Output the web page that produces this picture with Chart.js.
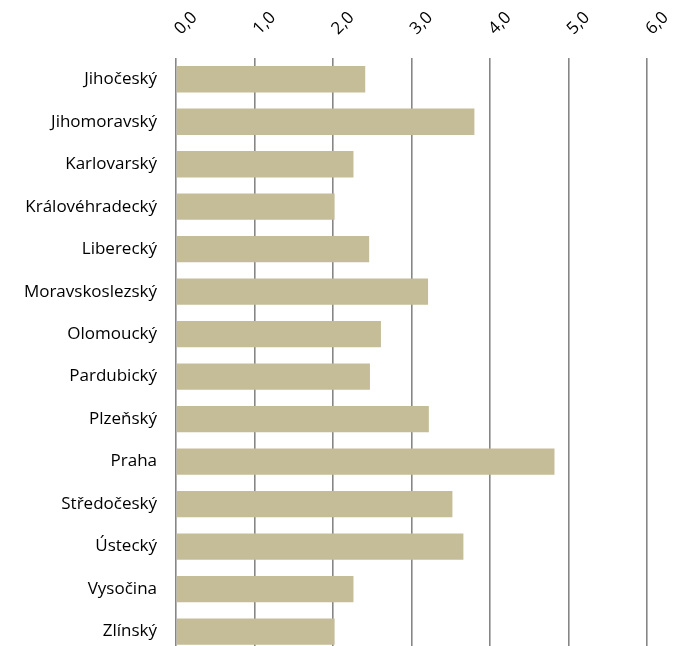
<!DOCTYPE html>
<html>
<head>
<meta charset="utf-8">
<script src="https://cdn.jsdelivr.net/npm/chart.js@4"></script>
<style>
    html, body { margin: 0; padding: 0; background: #fff; overflow: hidden; }
    #wrap { position: relative; width: 683px; height: 682px; }
</style>
</head>
<body>
<div id="wrap"><canvas id="chart"></canvas></div>
<script>
const regions = [
    'Jihočeský', 'Jihomoravský', 'Karlovarský', 'Královéhradecký', 'Liberecký',
    'Moravskoslezský', 'Olomoucký', 'Pardubický', 'Plzeňský', 'Praha',
    'Středočeský', 'Ústecký', 'Vysočina', 'Zlínský'
];
const values = [2.41, 3.80, 2.26, 2.02, 2.46, 3.21, 2.61, 2.47, 3.22, 4.82, 3.52, 3.66, 2.26, 2.02];
const tickLabels = ['0,0', '1,0', '2,0', '3,0', '4,0', '5,0', '6,0'];

new Chart(document.getElementById('chart'), {
    type: 'bar',
    data: {
        labels: regions,
        datasets: [{
            data: values,
            backgroundColor: '#c5bd97',
            categoryPercentage: 1,
            barPercentage: 0.62
        }]
    },
    options: {
        indexAxis: 'y',
        responsive: true,
        maintainAspectRatio: false,
        animation: false,
        layout: { padding: { top: 0, bottom: 0, left: 0, right: 9 } },
        plugins: {
            legend: { display: false },
            tooltip: { enabled: false }
        },
        scales: {
            x: {
                position: 'top',
                min: 0,
                max: 6,
                grid: { color: '#868686', lineWidth: 1.6, drawTicks: false },
                border: { display: false },
                ticks: {
                    stepSize: 1,
                    minRotation: 45,
                    maxRotation: 45,
                    padding: 19,
                    labelOffset: 16,
                    color: '#000',
                    font: { family: 'Open Sans', size: 17 },
                    callback: (v, i) => tickLabels[i]
                },
                afterFit: s => { s.height = 58; }
            },
            y: {
                grid: { display: false, drawTicks: false },
                border: { display: false },
                ticks: { color: '#000', font: { family: 'Open Sans', size: 17 }, padding: 19 },
                afterFit: s => { s.width = 176; }
            }
        }
    }
});
</script>
</body>
</html>
